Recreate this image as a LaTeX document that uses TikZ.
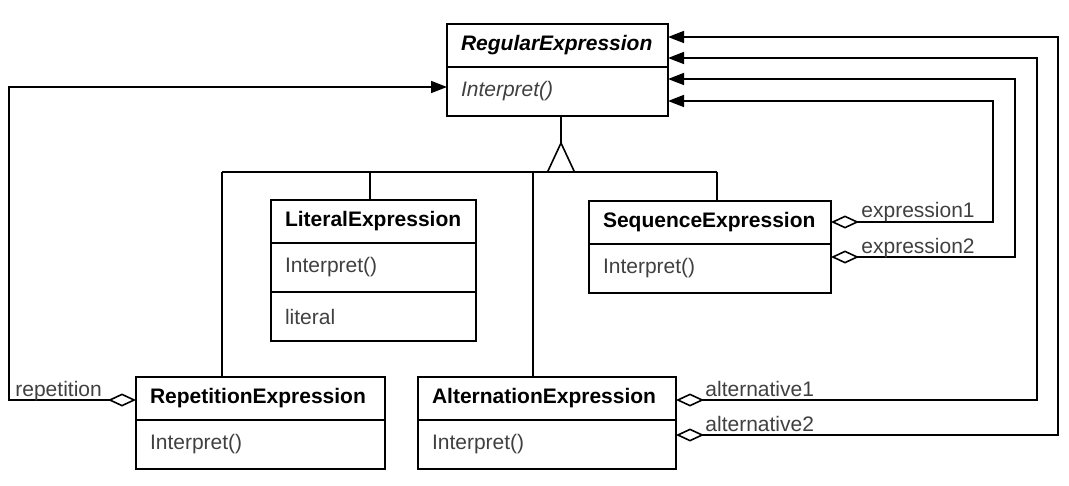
\documentclass[tikz,border=0pt]{standalone}
\usepackage{fontspec}
\setmainfont{Liberation Sans}
\usetikzlibrary{arrows.meta}
\usetikzlibrary{positioning,shapes}

\tikzset{
  classname/.style={draw, thick, outer sep=0pt, inner xsep=7pt, align=left,
    text width=#1, minimum height=21.5pt, font=\fontsize{10.5}{12}\selectfont\bfseries},
  classops/.style={draw, thick, outer sep=0pt, inner xsep=7pt, align=left,
    text width=#1, minimum height=24.5pt, text=black!75, font=\fontsize{10.5}{12}\selectfont},
  rolename/.style={text=black!75, inner sep=0pt, font=\fontsize{10.5}{12}\selectfont},
  aggr/.style={thick, {Diamond[open,length=14pt,width=6.5pt]}-{Triangle[length=8pt,width=6pt]}}
}

\begin{document}
\begin{tikzpicture}[x=0.5pt,y=-0.5pt]
      \useasboundingbox (0,0) rectangle (1069,486);
      % classes
      \node[classname=96.5pt, anchor=north west] (re) at (447,24) {\itshape RegularExpression};
      \node[classops=96.5pt, below=0pt of re] (reops) {\itshape Interpret()};
      \node[classname=88.5pt, anchor=north west] (lit) at (271,200) {LiteralExpression};
      \node[classops=88.5pt, below=0pt of lit] (litops) {Interpret()};
      \node[classops=88.5pt, below=0pt of litops] (litattr) {literal};
      \node[classname=107pt, anchor=north west] (seq) at (589,201) {SequenceExpression};
      \node[classops=107pt, below=0pt of seq] (seqops) {Interpret()};
      \node[classname=110.5pt, anchor=north west] (rep) at (136,377) {RepetitionExpression};
      \node[classops=110.5pt, below=0pt of rep] (repops) {Interpret()};
      \node[classname=115pt, anchor=north west] (alt) at (418,377) {AlternationExpression};
      \node[classops=115pt, below=0pt of alt] (altops) {Interpret()};
      % inheritance
      \coordinate (apex) at (561,143);
      \coordinate (busL) at (222,172);
      \coordinate (dlit) at (370,172);
      \coordinate (dalt) at (533,172);
      \coordinate (busR) at (717,172);
      \draw[thick] (apex |- reops.south) -- (apex);
      \draw[thick] (apex) -- ++(-13.5,29) -- ++(27,0) -- cycle;
      \draw[thick] (busL) -- (busR);
      \draw[thick] (busL) -- (busL |- rep.north);
      \draw[thick] (dlit) -- (dlit |- lit.north);
      \draw[thick] (dalt) -- (dalt |- alt.north);
      \draw[thick] (busR) -- (busR |- seq.north);
      % aggregations
      \draw[aggr] (rep.west |- 0,400) -| (9,87) -- (reops.west |- 0,87);
      \draw[aggr] (seq.east |- 0,222) -| (993,101) -- (reops.east |- 0,101);
      \draw[aggr] (seqops.east |- 0,257) -| (1015,79) -- (reops.east |- 0,79);
      \draw[aggr] (alt.east |- 0,400) -| (1037,58) -- (re.east |- 0,58);
      \draw[aggr] (altops.east |- 0,435) -| (1058,37) -- (re.east |- 0,37);
      \node[rolename, anchor=base west] (lrep) at (15,396) {repetition};
      \node[rolename, anchor=base west] (lex1) at (861,218) {expression1};
      \node[rolename, anchor=base west] (lex2) at (861,253) {expression2};
      \node[rolename, anchor=base west] (lalt1) at (705,396) {alternative1};
      \node[rolename, anchor=base west] (lalt2) at (705,431) {alternative2};
\end{tikzpicture}
\end{document}
